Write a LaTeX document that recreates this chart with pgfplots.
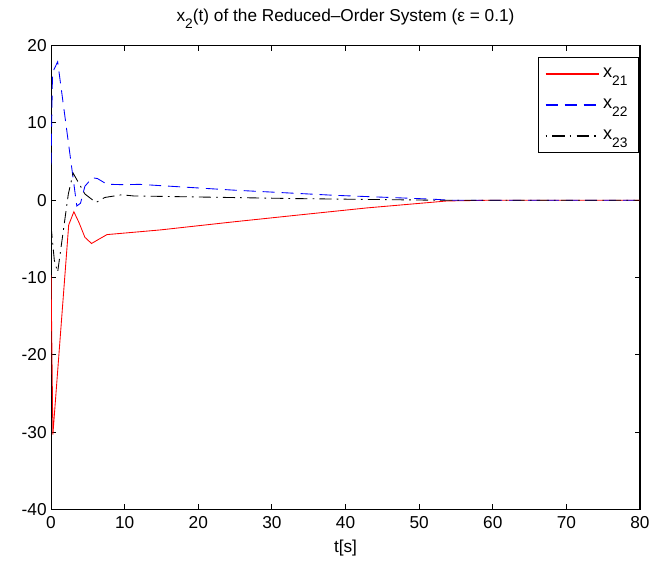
\documentclass[border=0pt]{standalone}
\usepackage{pgfplots}
\pgfplotsset{compat=1.18}
\usepackage{fontspec}
\setmainfont{Liberation Sans}
\setsansfont{Liberation Sans}
\begin{document}
\begin{tikzpicture}
\useasboundingbox (-29.6pt,-29.6pt) rectangle (347.4pt,295.5pt);
\begin{axis}[
  scale only axis,
  width=341.6pt, height=269.1pt,
  xmin=0, xmax=80, ymin=-40, ymax=20,
  xtick={0,10,...,80}, ytick={-40,-30,...,20},
  tick align=inside,
  major tick length=3pt,
  xtick pos=both, ytick pos=both,
  axis line style={line width=0.6pt},
  every tick/.style={black, line width=0.5pt},
  /pgf/number format/assume math mode=true,
  tick label style={font=\fontsize{10}{12}\selectfont},
  xticklabel style={yshift=-0.5pt},
  yticklabel style={xshift=1pt},
  xlabel={t[s]},
  xlabel style={font=\fontsize{10}{12}\selectfont, yshift=0pt},
  title={x\raisebox{-0.7ex}{\footnotesize 2}(t) of the Reduced–Order System (ε = 0.1)},
  title style={font=\fontsize{10}{12}\selectfont, yshift=0.5pt},
  legend style={at={(rel axis cs:0.997,0.975)}, anchor=north east,
    font=\fontsize{10.5}{12}\selectfont,
    inner xsep=4pt, inner ysep=4pt, row sep=7pt, cells={anchor=west}},
  legend image code/.code={\draw[mark repeat=2,mark phase=2] plot coordinates {(0pt,0pt) (15.5pt,0pt) (31pt,0pt)};},
]
\addlegendimage{draw=red, line width=0.75pt}
\addlegendentry{x\raisebox{-0.8ex}{\footnotesize 21}}
\addlegendimage{draw=blue, line width=0.75pt, dash pattern=on 7pt off 4pt}
\addlegendentry{x\raisebox{-0.8ex}{\footnotesize 22}}
\addlegendimage{draw=black, line width=0.75pt, dash pattern=on 1pt off 3pt on 7pt off 3pt}
\addlegendentry{x\raisebox{-0.8ex}{\footnotesize 23}}
\addplot[draw=red, line width=0.5pt, forget plot] coordinates {
(0,-9.7) (0.25,-30.3) (2.4,-3.2) (3.1,-1.5) (3.8,-2.9) (4.6,-4.8) (5.5,-5.6)
(6.4,-5.1) (7.6,-4.45) (10,-4.25) (14.8,-3.85) (24.8,-2.8) (33.8,-1.9)
(42.9,-1.0) (53.8,-0.1) (60,0) (80,0)
};
\addplot[draw=blue, line width=0.5pt, dash pattern=on 7pt off 4pt, forget plot] coordinates {
(0,4.6) (0.2,16.5) (0.9,17.9) (3.5,-0.75) (4.0,-0.4) (4.6,1.8) (5.6,2.9)
(6.3,2.8) (7.6,2.06) (10,2.0) (12,2.05) (24.8,1.3) (38.3,0.64) (51.9,0.13)
(54,0) (80,0)
};
\addplot[draw=black, line width=0.5pt, dash pattern=on 7pt off 3pt on 1pt off 3pt, forget plot] coordinates {
(0,-3.3) (0.45,-7.8) (0.9,-9.3) (2.35,0.8) (3.0,3.5) (4.6,0.8) (6.1,-0.3)
(7.3,0.35) (9.6,0.7) (11.2,0.55) (33.8,0.2) (51.9,0.0) (80,0)
};
\end{axis}
\end{tikzpicture}
\end{document}
